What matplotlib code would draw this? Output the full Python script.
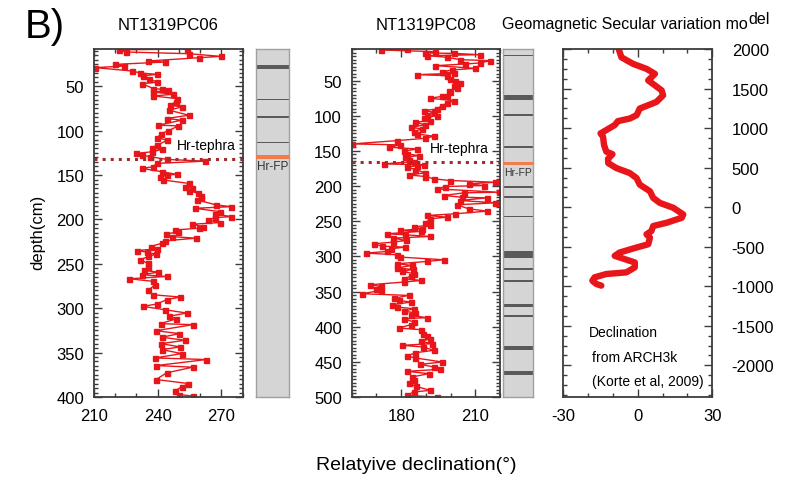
import matplotlib
matplotlib.use("Agg")
import matplotlib.pyplot as plt
from matplotlib.ticker import MultipleLocator, FixedLocator
import numpy as np

plt.rcParams['font.family'] = ['Liberation Sans', 'DejaVu Sans']
plt.rcParams['axes.unicode_minus'] = False

# ---------------- data ----------------
pc06_depth = [8, 9, 11.4, 13.3, 16.3, 17.8, 21.5, 22.7, 25.3, 27.2, 29, 32.8, 35, 36.5, 38.4, 41.4,
              45.5, 47, 52.6, 53.4, 54.5, 56.4, 59, 60.9, 63.9, 67.6, 71.3, 73.2, 77, 82.6, 86.3,
              88.2, 93.8, 94.6, 100.2, 103.2, 108, 110.7, 116.3, 119.3, 121.2, 123.8, 125.6, 127.5,
              129.4, 132.4, 134.3, 136.9, 140.6, 142.5, 146.2, 149.2, 150, 152.7, 155.6, 159.4, 163,
              165, 167.6, 170.6, 173.5, 176.2, 178, 183.7, 185.6, 187.4, 191.2, 194, 196.8, 198,
              200.5, 203.5, 205.4, 208, 209.9, 211.8, 213.7, 216.6, 219.3, 221.1, 224.1, 226.8,
              230.5, 233.1, 235, 236.9, 239.1, 241.7, 245.5, 249.2, 253, 257.5, 259.3, 262.3, 264.2,
              266.8, 269.8, 273.6, 279.6, 284.8, 287.4, 290.4, 295.3, 297.9, 301.7, 305.4, 309.2,
              311.8, 317.4, 318.5, 325.3, 328.6, 332.7, 336.1, 339.9, 343.6, 346.6, 351.1, 356,
              357.8, 364.6, 366.4, 372.8, 380.3, 384.8, 388.9, 393, 397.2, 399]
pc06_decl = [253.9, 222, 225, 254.7, 269.7, 259.5, 235.6, 243.4, 220, 224, 210.6, 228, 231.7, 239.5,
             233, 235.8, 239.8, 232.5, 238, 241.9, 245, 238, 247.3, 238, 248.9, 248.4, 245.8, 251.3,
             245.5, 254.6, 244.2, 251.3, 240.3, 249.7, 245, 241.7, 239.8, 244.5, 239.8, 237.2, 241.9,
             237.2, 229.8, 232.5, 236.4, 244.5, 262.2, 239.5, 237.9, 232.5, 241.9, 248.9, 244.2,
             240.9, 242.7, 254.6, 252.9, 256, 254.6, 259.1, 260.6, 260.6, 258.6, 267.6, 274.7, 257.5,
             269.2, 267, 274.7, 266.8, 263.7, 269.2, 256, 261.4, 259.5, 248.1, 249.7, 244, 246.6,
             258, 243.4, 241.9, 236.7, 239.8, 230.4, 234.8, 239.2, 235.6, 231.7, 235.2, 235.6, 233.6,
             240.3, 232.5, 244.2, 226.7, 238, 238.8, 235.6, 237.7, 250.5, 244.2, 239.5, 232.9, 243.4,
             253.6, 245.3, 248.8, 241.4, 256.6, 239.2, 250.2, 241.9, 252.8, 241.6, 250.5, 241.9,
             251.3, 238.8, 262.9, 239.3, 256.5, 244.2, 239.2, 254.4, 251.2, 248, 250.1, 256.7]

pc08_depth = [5, 6.4, 8.8, 10.7, 11.2, 13.1, 14.5, 16.8, 20.2, 21.6, 24.9, 26.3, 28.7, 32.5, 34.8,
              37.2, 39.6, 41.5, 42.9, 47.6, 51, 53.8, 57.1, 60.4, 64.2, 66.6, 71.3, 72.3, 75.1, 78.4,
              82.2, 85.5, 90.3, 92.6, 95, 98.3, 99.7, 103.5, 106.8, 109.2, 113, 116.3, 118.7, 122.5,
              125.8, 129.1, 132, 135.3, 140, 141.4, 144.7, 147.1, 150.4, 154.2, 156.6, 159, 162.3,
              165.1, 168.4, 169.8, 170.8, 173.2, 176.5, 181.2, 184.1, 186.4, 189.7, 192.1, 194.5,
              196.8, 199.2, 200.6, 204, 208.7, 209.6, 213.4, 215.8, 216.7, 220.5, 223.8, 226.6,
              232.3, 235.6, 239.4, 241.8, 244.2, 246.5, 252.2, 255, 258.4, 260.7, 263.1, 264.5,
              267.8, 269.3, 271.6, 274, 277.3, 279.7, 282, 285.4, 286.8, 289.2, 293, 295.3, 297.7,
              301, 304.8, 307.2, 310.5, 312.8, 316.6, 318.5, 321.4, 324.7, 328, 331.8, 334.2, 336.5,
              340.3, 342.7, 346, 348.4, 353.1, 355.5, 359.3, 362.6, 365, 368.7, 372.1, 374.4, 378.2,
              380.1, 384, 387.2, 388.6, 393.4, 397, 401.9, 404.3, 410, 413.3, 417.1, 420.8, 424.2,
              426.5, 428.9, 433.6, 437, 441.7, 444.5, 450.2, 453.5, 457.3, 460.6, 463.5, 466.8,
              471.5, 476.3, 480.1, 485, 490.5, 492.9, 497.6, 500]
pc08_decl = [182.4, 171.7, 193.9, 189.8, 201.3, 211.8, 190.5, 198.6, 204, 216.1, 211.8, 206, 193.9,
             210, 200.6, 196.6, 201.3, 186.5, 198.6, 199.9, 201.9, 204, 201.3, 202.6, 199.2, 199.9,
             198.6, 196.6, 191.8, 201.3, 198.6, 196.6, 194.5, 189.2, 193.3, 190.5, 194.5, 189.2,
             191.8, 185.8, 189.8, 183.8, 188.5, 185.1, 186.5, 193.3, 189.8, 178.4, 160.2, 179.7,
             175, 186.5, 181.1, 182.4, 187.1, 181.7, 183.1, 185.1, 173, 189.2, 186.5, 182.4, 185.8,
             189.8, 183.1, 189.8, 193.3, 199.9, 218.1, 207.3, 213.4, 197.9, 194.5, 219.4, 205.3,
             197.2, 204.6, 214.7, 203.9, 218.1, 202.6, 207.3, 214.7, 201.9, 190.5, 198.6, 191.8,
             189.8, 191.8, 185.1, 188.5, 179.7, 187.9, 174.3, 181.7, 191.8, 176.7, 182.1, 176.7,
             169, 172.3, 181.7, 175.7, 174.3, 165.6, 178.4, 179.7, 197.2, 190.5, 178.4, 184.3,
             178.4, 184.8, 180.4, 185.4, 184.1, 181.1, 188.2, 181.1, 167.6, 171.7, 169.7, 171.7,
             164.3, 183.1, 177.3, 179.3, 183.8, 176.5, 178.4, 185.1, 181.1, 185.8, 184, 190.5,
             181.1, 185.1, 184, 179, 188.2, 188.9, 190.3, 191.6, 188.2, 192.3, 180.4, 188.9, 193.2,
             185.8, 182.4, 185.8, 196.6, 187.8, 193.2, 195.9, 182.4, 191.2, 184.4, 185.1, 183.1,
             186, 191.8, 185.1, 182.4, 194.5]

arch_year = [2000, 1895, 1812, 1749, 1686, 1603, 1477, 1414, 1331, 1247, 1163, 1121, 1088, 1038,
             975, 933, 891, 787, 703, 670, 611, 557, 494, 431, 368, 285, 201, 117, 54, -8, -92,
             -134, -197, -238, -301, -343, -385, -469, -510, -573, -615, -636, -699, -761, -824,
             -845, -887, -929, -971, -992]
arch_decl = [-7.7, -6.6, -1.9, 3.5, 6.9, 4.2, 9.6, 10.2, 7.5, 0.8, -0.5, -3.2, -8, -9.3, -12.7,
             -15, -14, -13.6, -12.7, -10.2, -12, -11.9, -8.6, -3.2, -0.5, 0.8, 4.9, 6.2, 8.9, 14.3,
             18.3, 17.7, 11.6, 6.2, 5.5, 3.5, 4.9, 4.2, -0.5, -7.3, -9.3, -7.3, -1.2, -1.2, -4.6,
             -12.7, -17.4, -18.3, -16.7, -14.7]

# core logs: (top, bottom) depth of dark layers
core06_dark = [(25.6, 30.9), (64.1, 65.7), (84.0, 85.6), (112.2, 113.8)]
core06_tephra = (127.4, 131.8)
core08_dark = [(13.0, 15.2), (71.0, 78.0), (97.8, 100.0), (142.5, 146.5), (200.0, 202.2),
               (214.5, 216.7), (242.0, 244.2), (292.5, 302.5), (317.0, 319.2), (334.0, 336.2),
               (367.5, 371.5), (384.0, 386.2), (427.5, 432.5), (463.5, 468.5)]
core08_tephra = (166.0, 170.5)

tephra06 = 132
tephra08 = 166

RED = '#e8161b'
SPINE = '#3c3c3c'

W, H = 792, 485
fig = plt.figure(figsize=(W / 100, H / 100), dpi=100)

def rect(x0, x1, y0=50, y1=398):
    return [x0 / W, 1 - y1 / H, (x1 - x0) / W, (y1 - y0) / H]

def style_axes(ax):
    for s in ax.spines.values():
        s.set_color(SPINE)
        s.set_linewidth(1.3)
    ax.tick_params(which='both', direction='in', top=True, bottom=True, left=True, right=True,
                   color=SPINE, labelsize=12, width=1.0)
    ax.tick_params(which='major', length=6)
    ax.tick_params(which='minor', length=3)
    ax.tick_params(axis='x', which='major', pad=8)
    ax.tick_params(axis='y', which='major', pad=7)

# ---- panel 1 ----
ax1 = fig.add_axes(rect(94, 242.7))
ax1.plot(pc06_decl, pc06_depth, '-s', color=RED, lw=1.0, ms=3.6, clip_on=True)
ax1.set_xlim(210, 280)
ax1.set_ylim(400, 8)
ax1.xaxis.set_major_locator(FixedLocator([210, 240, 270]))
ax1.xaxis.set_minor_locator(MultipleLocator(10))
ax1.yaxis.set_major_locator(FixedLocator([50, 100, 150, 200, 250, 300, 350, 400]))
ax1.yaxis.set_minor_locator(MultipleLocator(5))
ax1.axhline(tephra06, color='#a52a2a', lw=2.2, ls=':')
ax1.text(0.555, tephra06 - 8, 'Hr-tephra', transform=ax1.get_yaxis_transform(), fontsize=10,
         ha='left', va='bottom')
style_axes(ax1)

# ---- core strip 1 ----
c1 = fig.add_axes(rect(255.7, 289.3))
c1.set_facecolor('#d5d5d5')
c1.set_xlim(0, 1)
c1.set_ylim(400, 8)
for t, b in core06_dark:
    c1.axhspan(t, b, color='#5a5a5a', lw=0)
c1.axhspan(core06_tephra[0], core06_tephra[1], color='#f07c4c', lw=0, zorder=3)
c1.text(0.04, core06_tephra[1] + 1.5, 'Hr-FP', fontsize=8.5, va='top', ha='left', color='#333333')
c1.set_xticks([])
c1.set_yticks([])
for s in c1.spines.values():
    s.set_color('#a0a0a0')
    s.set_linewidth(1.0)

# ---- panel 2 ----
ax2 = fig.add_axes(rect(351.7, 500))
ax2.plot(pc08_decl, pc08_depth, '-s', color=RED, lw=1.0, ms=3.6, clip_on=True)
ax2.set_xlim(160, 220)
ax2.set_ylim(500, 5)
ax2.xaxis.set_major_locator(FixedLocator([180, 210]))
ax2.xaxis.set_minor_locator(MultipleLocator(10))
ax2.yaxis.set_major_locator(FixedLocator([50, 100, 150, 200, 250, 300, 350, 400, 450, 500]))
ax2.yaxis.set_minor_locator(MultipleLocator(5))
ax2.axhline(tephra08, color='#a52a2a', lw=2.2, ls=':')
ax2.text(0.53, tephra08 - 10, 'Hr-tephra', transform=ax2.get_yaxis_transform(), fontsize=10,
         ha='left', va='bottom')
style_axes(ax2)

# ---- core strip 2 ----
c2 = fig.add_axes(rect(503.3, 532.7))
c2.set_facecolor('#d5d5d5')
c2.set_xlim(0, 1)
c2.set_ylim(500, 5)
for t, b in core08_dark:
    c2.axhspan(t, b, color='#5a5a5a', lw=0)
c2.axhspan(core08_tephra[0], core08_tephra[1], color='#f07c4c', lw=0, zorder=3)
c2.text(0.04, core08_tephra[1] + 2, 'Hr-FP', fontsize=7.5, va='top', ha='left', color='#333333')
c2.set_xticks([])
c2.set_yticks([])
for s in c2.spines.values():
    s.set_color('#a0a0a0')
    s.set_linewidth(1.0)

# ---- panel 3 ----
ax3 = fig.add_axes(rect(563.3, 712.3))
ax3.plot(arch_decl, arch_year, '-', color=RED, lw=4.6, solid_capstyle='round',
         solid_joinstyle='round')
ax3.set_xlim(-30, 30)
ax3.set_ylim(-2400, 2000)
ax3.xaxis.set_major_locator(FixedLocator([-30, 0, 30]))
ax3.xaxis.set_minor_locator(MultipleLocator(10))
ax3.yaxis.set_major_locator(MultipleLocator(500))
ax3.yaxis.set_minor_locator(MultipleLocator(125))
style_axes(ax3)
ax3.tick_params(axis='y', labelleft=False, labelright=True, pad=14)
ax3.text(-19.6, -1580, 'Declination', fontsize=10, ha='left', va='center')
ax3.text(-18.4, -1895, 'from ARCH3k', fontsize=10, ha='left', va='center')
ax3.text(-18.4, -2198, '(Korte et al, 2009)', fontsize=10, ha='left', va='center')

# ---- titles and labels ----
fig.text(25 / W, 1 - 27 / H, 'B)', fontsize=29, ha='left', va='center')
fig.text(168 / W, 1 - 25 / H, 'NT1319PC06', fontsize=12, ha='center', va='center')
fig.text(426 / W, 1 - 25 / H, 'NT1319PC08', fontsize=12, ha='center', va='center')
t3 = fig.text(502 / W, 1 - 24 / H, 'Geomagnetic Secular variation mo', fontsize=11.5,
              ha='left', va='center')
plt.annotate('del', xy=(1, 0.5), xycoords=t3, xytext=(0.5, 3), textcoords='offset points',
             fontsize=11.5, ha='left', va='center', annotation_clip=False)
fig.text(38 / W, 1 - 232 / H, 'depth(cm)', fontsize=12, rotation=90, ha='center', va='center')
fig.text(416 / W, 1 - 466 / H, 'Relatyive declination(°)', fontsize=14, ha='center',
         va='center')

fig.savefig('out.png', dpi=100)
